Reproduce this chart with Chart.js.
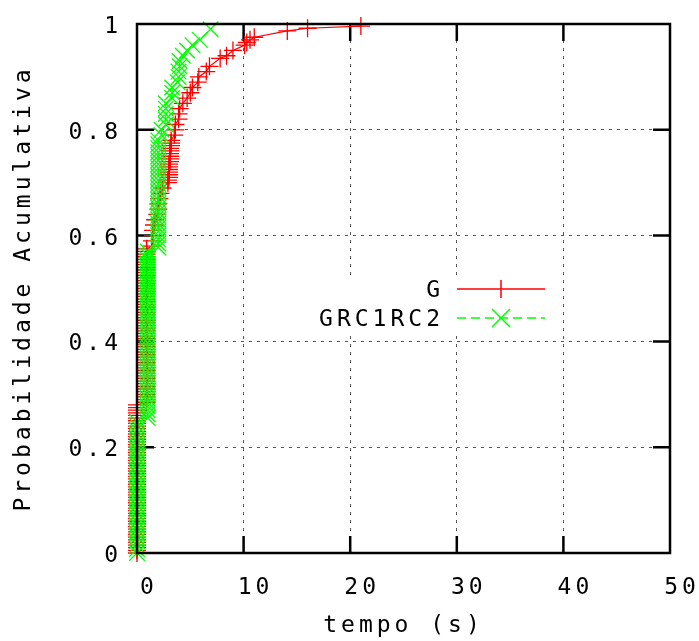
<!DOCTYPE html>
<html>
<head>
<meta charset="utf-8">
<script src="https://cdn.jsdelivr.net/npm/chart.js@4/dist/chart.umd.min.js"></script>
<style>
  html, body { margin: 0; padding: 0; background: #fff; }
  canvas { display: block; }
</style>
</head>
<body>
<canvas id="cdf" width="699" height="641"></canvas>
<script>
// Axis ranges and tick steps
const xRange = [0, 50];
const xStep = 10;
const yRange = [0, 1];
const yStep = 0.2;

const seriesNames = ['G', 'GRC1RC2'];
const axisTitles = { x: 'tempo (s)', y: 'Probabilidade Acumulativa' };

// Series G: sorted times (s) and cumulative probability
const gTime = [
  0, 0, 0, 0, 0, 0, 0, 0, 0, 0,
  0, 0, 0, 0, 0, 0, 0, 0, 0, 0,
  0, 0, 0, 0, 0, 0, 0, 0, 0, 0,
  0, 0, 0, 0, 0, 0, 0, 0, 0, 0,
  0, 0, 0, 0, 0, 0, 0, 0, 0, 0,
  0, 0, 0, 0, 0, 0, 0,
  0.9, 0.9, 0.9, 0.9, 0.9, 0.9, 0.9, 0.9, 0.9, 0.9,
  0.9, 0.9, 0.9, 0.9, 0.9, 0.9, 0.9, 0.9, 0.9, 0.9,
  0.9, 0.9, 0.9, 0.9, 0.9, 0.9, 0.9, 0.9, 0.9, 0.9,
  0.9, 0.9, 0.9, 0.9, 0.9, 0.9, 0.9, 0.9, 0.9, 0.9,
  0.9, 0.9, 0.9, 0.9, 0.9, 0.9, 0.9, 0.9, 0.9, 0.9,
  0.9, 0.9, 0.9, 0.9, 0.9, 0.9, 0.9, 0.9, 0.9,
  1.4, 1.4, 1.5, 1.5, 1.6, 1.7,
  1.9, 2.0, 2.0, 2.1, 2.2, 2.4,
  2.9, 2.9, 3.0, 3.0, 3.0, 3.0, 3.0, 3.0, 3.1, 3.1, 3.1, 3.1, 3.1, 3.1, 3.2, 3.2, 3.2,
  3.5, 3.6, 3.6,
  3.9, 3.9, 4.0,
  4.3, 4.7,
  5.0, 5.2,
  5.7, 5.8,
  6.5, 6.8,
  7.8, 8.4, 9.0,
  10.1, 10.3, 10.6, 11.0,
  14.1, 16.0, 21.0
];
const gProb = [
  0.000, 0.005, 0.010, 0.015, 0.020, 0.025, 0.030, 0.035, 0.040, 0.045,
  0.050, 0.055, 0.060, 0.065, 0.070, 0.075, 0.080, 0.085, 0.090, 0.095,
  0.100, 0.105, 0.110, 0.115, 0.120, 0.125, 0.130, 0.135, 0.140, 0.145,
  0.150, 0.155, 0.160, 0.165, 0.170, 0.175, 0.180, 0.185, 0.190, 0.195,
  0.200, 0.205, 0.210, 0.215, 0.220, 0.225, 0.230, 0.235, 0.240, 0.245,
  0.250, 0.255, 0.260, 0.265, 0.270, 0.275, 0.280,
  0.285, 0.290, 0.295, 0.300, 0.305, 0.310, 0.315, 0.320, 0.325, 0.330,
  0.335, 0.340, 0.345, 0.350, 0.355, 0.360, 0.365, 0.370, 0.375, 0.380,
  0.385, 0.390, 0.395, 0.400, 0.405, 0.410, 0.415, 0.420, 0.425, 0.430,
  0.435, 0.440, 0.445, 0.450, 0.455, 0.460, 0.465, 0.470, 0.475, 0.480,
  0.485, 0.490, 0.495, 0.500, 0.505, 0.510, 0.515, 0.520, 0.525, 0.530,
  0.535, 0.540, 0.545, 0.550, 0.555, 0.560, 0.565, 0.570, 0.575,
  0.58, 0.59, 0.60, 0.61, 0.62, 0.63,
  0.64, 0.65, 0.66, 0.67, 0.68, 0.69,
  0.700, 0.705, 0.710, 0.715, 0.720, 0.725, 0.730, 0.735, 0.740, 0.745, 0.750, 0.755, 0.760, 0.765, 0.770, 0.775, 0.780,
  0.79, 0.80, 0.81,
  0.82, 0.83, 0.84,
  0.85, 0.86,
  0.87, 0.88,
  0.89, 0.90,
  0.91, 0.92,
  0.935, 0.94, 0.95,
  0.96, 0.965, 0.97, 0.975,
  0.987, 0.992, 0.996
];

// Series GRC1RC2: sorted times (s) and cumulative probability
const rcTime = [
  0, 0, 0, 0, 0, 0, 0, 0, 0, 0,
  0, 0, 0, 0, 0, 0, 0, 0, 0, 0,
  0, 0, 0, 0, 0, 0, 0, 0, 0, 0,
  0, 0, 0, 0,
  1.0, 1.0, 1.0, 1.0, 1.0, 1.0, 1.0, 1.0, 1.0, 1.0,
  1.0, 1.0, 1.0, 1.0, 1.0, 1.0, 1.0, 1.0, 1.0, 1.0,
  1.0, 1.0, 1.0, 1.0, 1.0, 1.0, 1.0, 1.0, 1.0, 1.0,
  1.0, 1.0, 1.0, 1.0, 1.0, 1.0, 1.0, 1.0, 1.0, 1.0,
  1.0, 1.0, 1.0,
  2.0, 2.0, 2.0, 2.0, 2.0, 2.0, 2.0, 2.0, 2.0, 2.0,
  2.0, 2.0, 2.0, 2.0, 2.0, 2.0, 2.0, 2.0, 2.0, 2.0,
  2.0, 2.0, 2.0, 2.0, 2.0, 2.0, 2.0, 2.0,
  2.3, 2.3,
  2.7, 2.7, 2.7, 2.7, 2.7,
  3.3, 3.3, 3.3,
  3.8, 3.9, 3.9, 4.0, 4.0,
  4.3, 4.7, 5.2, 5.9, 6.9
];
const rcProb = [
  0.0000, 0.0075, 0.0150, 0.0225, 0.0300, 0.0375, 0.0450, 0.0525, 0.0600, 0.0675,
  0.0750, 0.0825, 0.0900, 0.0975, 0.1050, 0.1125, 0.1200, 0.1275, 0.1350, 0.1425,
  0.1500, 0.1575, 0.1650, 0.1725, 0.1800, 0.1875, 0.1950, 0.2025, 0.2100, 0.2175,
  0.2250, 0.2325, 0.2400, 0.2475,
  0.2550, 0.2625, 0.2700, 0.2775, 0.2850, 0.2925, 0.3000, 0.3075, 0.3150, 0.3225,
  0.3300, 0.3375, 0.3450, 0.3525, 0.3600, 0.3675, 0.3750, 0.3825, 0.3900, 0.3975,
  0.4050, 0.4125, 0.4200, 0.4275, 0.4350, 0.4425, 0.4500, 0.4575, 0.4650, 0.4725,
  0.4800, 0.4875, 0.4950, 0.5025, 0.5100, 0.5175, 0.5250, 0.5325, 0.5400, 0.5475,
  0.5550, 0.5625, 0.5700,
  0.5775, 0.5850, 0.5925, 0.6000, 0.6075, 0.6150, 0.6225, 0.6300, 0.6375, 0.6450,
  0.6525, 0.6600, 0.6675, 0.6750, 0.6825, 0.6900, 0.6975, 0.7050, 0.7125, 0.7200,
  0.7275, 0.7350, 0.7425, 0.7500, 0.7575, 0.7650, 0.7725, 0.7800,
  0.79, 0.80,
  0.81, 0.82, 0.83, 0.84, 0.85,
  0.86, 0.87, 0.88,
  0.89, 0.90, 0.91, 0.92, 0.93,
  0.94, 0.95, 0.96, 0.97, 0.99
];

const RED = '#ff0000';
const GREEN = '#00ff00';
const FONT_FAMILY = "'DejaVu Sans Mono', monospace";
const FONT_SIZE = 23;
const LETTER_SPACING = '4px';

Chart.defaults.font.family = FONT_FAMILY;
Chart.defaults.font.size = FONT_SIZE;
Chart.defaults.color = '#000';

const toPoints = (xs, ys) => xs.map((x, i) => ({ x, y: ys[i] }));

// Fixed axis box sizes; labels may overhang the plot edges freely.
const fixBox = (w, h) => s => {
  if (w !== null) s.width = w;
  if (h !== null) s.height = h;
  s.paddingLeft = s.paddingRight = s.paddingTop = s.paddingBottom = 0;
};

// Border drawn in front of the curves, inward tick marks behind them,
// and a key with an opaque background.
const framePlugin = {
  id: 'frame',
  beforeDraw(chart) {
    chart.ctx.letterSpacing = LETTER_SPACING;
  },
  beforeDatasetsDraw(chart) {
    const { ctx, chartArea: a, scales: { x, y } } = chart;
    const len = 17;
    ctx.save();
    ctx.strokeStyle = '#000';
    ctx.lineWidth = 2.5;
    ctx.beginPath();
    x.ticks.forEach(t => {
      if (t.value <= xRange[0] || t.value >= xRange[1]) return;
      const px = x.getPixelForValue(t.value);
      ctx.moveTo(px, a.bottom); ctx.lineTo(px, a.bottom - len);
      ctx.moveTo(px, a.top); ctx.lineTo(px, a.top + len);
    });
    y.ticks.forEach(t => {
      if (t.value <= yRange[0] + 1e-9 || t.value >= yRange[1] - 1e-9) return;
      const py = y.getPixelForValue(t.value);
      ctx.moveTo(a.left, py); ctx.lineTo(a.left + len, py);
      ctx.moveTo(a.right, py); ctx.lineTo(a.right - len, py);
    });
    ctx.stroke();
    ctx.restore();
  },
  afterDatasetsDraw(chart) {
    const { ctx, chartArea: a } = chart;
    ctx.save();
    ctx.letterSpacing = LETTER_SPACING;

    // key
    const keyTextRight = 444;
    const sampleL = 457, sampleR = 545, sampleMid = 501;
    const rows = [289, 318];
    ctx.fillStyle = '#fff';
    ctx.fillRect(306, 278, 250, 58);

    ctx.font = FONT_SIZE + 'px ' + FONT_FAMILY;
    ctx.textAlign = 'right';
    ctx.textBaseline = 'middle';
    ctx.fillStyle = '#000';
    ctx.fillText(seriesNames[0], keyTextRight, rows[0] + 2);
    ctx.fillText(seriesNames[1], keyTextRight, rows[1] + 2);

    ctx.lineWidth = 1.5;
    ctx.strokeStyle = RED;
    ctx.beginPath();
    ctx.moveTo(sampleL, rows[0]); ctx.lineTo(sampleR, rows[0]);
    ctx.moveTo(sampleMid - 9, rows[0]); ctx.lineTo(sampleMid + 9, rows[0]);
    ctx.moveTo(sampleMid, rows[0] - 9); ctx.lineTo(sampleMid, rows[0] + 9);
    ctx.stroke();

    ctx.strokeStyle = GREEN;
    ctx.setLineDash([9, 5]);
    ctx.beginPath();
    ctx.moveTo(sampleL, rows[1]); ctx.lineTo(sampleR, rows[1]);
    ctx.stroke();
    ctx.setLineDash([]);
    ctx.beginPath();
    const d = 9;
    ctx.moveTo(sampleMid - d, rows[1] - d); ctx.lineTo(sampleMid + d, rows[1] + d);
    ctx.moveTo(sampleMid - d, rows[1] + d); ctx.lineTo(sampleMid + d, rows[1] - d);
    ctx.stroke();

    // plot border
    ctx.strokeStyle = '#000';
    ctx.lineWidth = 2.5;
    ctx.strokeRect(a.left, a.top, a.right - a.left, a.bottom - a.top);
    ctx.restore();
  }
};

const GRID = '#555555';
const innerX = c => (c.tick && c.tick.value > xRange[0] && c.tick.value < xRange[1]) ? GRID : 'rgba(0,0,0,0)';
const innerY = c => (c.tick && c.tick.value > yRange[0] + 1e-9 && c.tick.value < yRange[1] - 1e-9) ? GRID : 'rgba(0,0,0,0)';
const probLabel = v => String(Number(v.toFixed(1)));

new Chart(document.getElementById('cdf'), {
  type: 'scatter',
  data: {
    datasets: [
      {
        label: seriesNames[0],
        data: toPoints(gTime, gProb),
        showLine: true,
        borderColor: RED,
        borderWidth: 1.2,
        pointStyle: 'cross',
        pointRadius: 9,
        pointBorderColor: RED,
        pointBackgroundColor: RED,
        pointBorderWidth: 1.3,
        clip: false,
        order: 2
      },
      {
        label: seriesNames[1],
        data: toPoints(rcTime, rcProb),
        showLine: true,
        borderColor: GREEN,
        borderWidth: 1.2,
        borderDash: [9, 5],
        pointStyle: 'crossRot',
        pointRadius: 11,
        pointBorderColor: GREEN,
        pointBackgroundColor: GREEN,
        pointBorderWidth: 1.3,
        clip: false,
        order: 1
      }
    ]
  },
  options: {
    responsive: false,
    animation: false,
    devicePixelRatio: 1,
    events: [],
    layout: { padding: { top: 24, right: 29, left: 0, bottom: 0 } },
    plugins: { legend: { display: false }, tooltip: { enabled: false } },
    scales: {
      x: {
        type: 'linear',
        min: xRange[0], max: xRange[1],
        ticks: { stepSize: xStep, padding: 21, labelOffset: 12, color: '#000', maxRotation: 0 },
        grid: { color: innerX, lineWidth: 1, drawTicks: false },
        border: { display: false, dash: [3, 5] },
        title: { display: true, text: axisTitles.x, color: '#000', font: { lineHeight: 1.0 }, padding: { top: 0, bottom: 3 } },
        afterFit: fixBox(null, 88)
      },
      y: {
        type: 'linear',
        min: yRange[0], max: yRange[1],
        ticks: { stepSize: yStep, padding: 15, labelOffset: 3, color: '#000', callback: probLabel },
        grid: { color: innerY, lineWidth: 1, drawTicks: false },
        border: { display: false, dash: [3, 5] },
        title: { display: true, text: axisTitles.y, color: '#000', padding: { top: 10, bottom: 0 } },
        afterFit: fixBox(137, null)
      }
    }
  },
  plugins: [framePlugin]
});
</script>
</body>
</html>
